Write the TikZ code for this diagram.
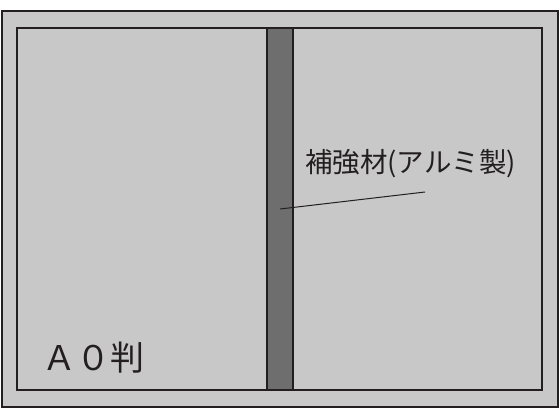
\documentclass[tikz,border=0pt]{standalone}
\usepackage{fontspec}
\newfontfamily\jpfont{Noto Sans CJK JP}
\definecolor{panel}{RGB}{200,200,200}
\definecolor{barc}{RGB}{110,110,110}
\definecolor{ink}{RGB}{35,31,32}
\tikzset{
  frame/.style={draw=ink, line width=1.4pt, fill=panel},
  barbox/.style={draw=ink, line width=1.4pt, fill=barc},
  leader/.style={draw=ink, line width=1pt},
  lbl/.style={text=ink, inner sep=0pt, font=\jpfont}
}
\begin{document}
\begin{tikzpicture}[x=1pt,y=-1pt]
\useasboundingbox (0,0) rectangle (560,420);
\fill[white] (0,0) rectangle (560,420);
\draw[frame] (2,11) rectangle (558,407);
\draw[frame] (17,28) rectangle (542,390);
\draw[barbox] (267,28) rectangle (293,390);
\coordinate (barpt) at (280,209);
\coordinate (lblpt) at (425,192);
\draw[leader] (barpt) -- (lblpt);
\node[lbl, font=\jpfont\fontsize{27.5}{30}\selectfont, anchor=west] (mat) at (305,164) {補強材(アルミ製)};
\node[lbl, font=\jpfont\fontsize{34}{36}\selectfont, anchor=west] (size) at (42,358) {Ａ０判};
\end{tikzpicture}
\end{document}
